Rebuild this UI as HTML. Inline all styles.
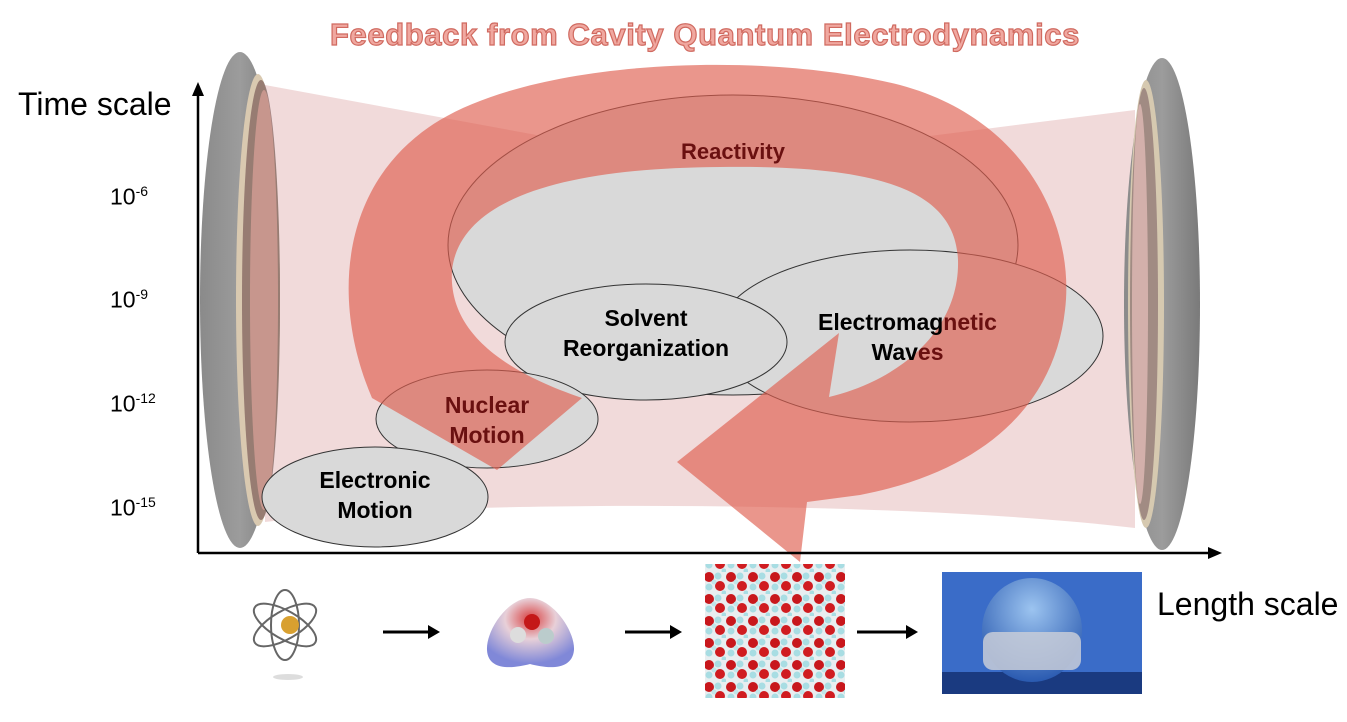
<!DOCTYPE html>
<html><head><meta charset="utf-8"><style>
html,body{margin:0;padding:0;background:#fff;}
body{width:1347px;height:722px;position:relative;overflow:hidden;font-family:"Liberation Sans",sans-serif;}
.t{position:absolute;color:#000;}
</style></head><body>
<svg width="1347" height="722" style="position:absolute;left:0;top:0">
<defs>
<linearGradient id="mg" x1="0" x2="1" y1="0" y2="0">
<stop offset="0" stop-color="#8a8a8a"/><stop offset="0.5" stop-color="#9c9c9c"/><stop offset="1" stop-color="#7a7a7a"/></linearGradient>
<radialGradient id="mol" cx="0.5" cy="0.3" r="0.65"><stop offset="0" stop-color="#d84040"/><stop offset="0.45" stop-color="#e8d0d8"/><stop offset="1" stop-color="#8088d8"/></radialGradient>
<radialGradient id="drop" cx="0.5" cy="0.3" r="0.7"><stop offset="0" stop-color="#9cc4f0"/><stop offset="1" stop-color="#2a5ab0"/></radialGradient>
<pattern id="wat" width="22" height="22" patternUnits="userSpaceOnUse">
<rect width="22" height="22" fill="#e8eef0"/>
<circle cx="5" cy="5" r="5" fill="#c8171c"/><circle cx="14" cy="4" r="3.5" fill="#a8dde3"/>
<circle cx="16" cy="14" r="5" fill="#d01c20"/><circle cx="5" cy="15" r="3.5" fill="#a8dde3"/>
<circle cx="10" cy="10" r="2.5" fill="#bfe6ea"/><circle cx="20" cy="21" r="2.5" fill="#a8dde3"/>
</pattern>
</defs>
<path d="M265,85 L700,165 L1135,110 L1135,528 C1000,512 800,505 600,506 C450,507 350,512 265,522 Z" fill="#eed3d3" opacity="0.85"/>
<ellipse cx="240" cy="300" rx="40" ry="248" fill="url(#mg)"/>
<ellipse cx="258" cy="300" rx="22" ry="226" fill="#d9c9b0"/>
<ellipse cx="261" cy="300" rx="19" ry="220" fill="#6a4a4a" opacity="0.6"/>
<ellipse cx="264" cy="300" rx="14" ry="210" fill="#e8a8a0" opacity="0.6"/>
<ellipse cx="1162" cy="304" rx="38" ry="246" fill="url(#mg)"/>
<ellipse cx="1146" cy="304" rx="18" ry="224" fill="#d6c9b0"/>
<ellipse cx="1144" cy="304" rx="14" ry="216" fill="#8a7070" opacity="0.7"/>
<ellipse cx="1140" cy="304" rx="8" ry="200" fill="#e8c0bc" opacity="0.7"/>
<g fill="#d9d9d9" stroke="#333" stroke-width="1">
<ellipse cx="733" cy="245" rx="285" ry="150"/>
<ellipse cx="910" cy="336" rx="193" ry="86"/>
<ellipse cx="646" cy="342" rx="141" ry="58"/>
<ellipse cx="487" cy="419" rx="111" ry="49"/>
<ellipse cx="375" cy="497" rx="113" ry="50"/>
</g>
<path d="M582,398 L497,470 L372,398 C330,300 340,180 440,120 C540,60 760,50 900,85 C1030,120 1075,230 1065,310 C1055,400 990,470 860,495 L807,502 L800,562 L677,462 L839,333 L829,397 C900,380 960,330 958,260 C955,190 880,165 720,167 C560,168 460,200 452,270 C448,330 500,370 582,398 Z" fill="#df5e4e" opacity="0.65"/>
<g stroke="#000" stroke-width="2.5" fill="none">
<line x1="198" y1="553" x2="198" y2="92"/>
<line x1="198" y1="553" x2="1212" y2="553"/>
</g>
<path d="M198,82 L192,96 L204,96 Z" fill="#000"/>
<path d="M1222,553 L1208,547 L1208,559 Z" fill="#000"/>
<g stroke="#000" stroke-width="3"><line x1="383" y1="632" x2="432" y2="632"/><line x1="625" y1="632" x2="674" y2="632"/><line x1="857" y1="632" x2="910" y2="632"/></g>
<g fill="#000"><path d="M440,632 L428,625 L428,639Z"/><path d="M682,632 L670,625 L670,639Z"/><path d="M918,632 L906,625 L906,639Z"/></g>
<g fill="none" stroke="#666" stroke-width="2">
<ellipse cx="285" cy="625" rx="35" ry="14" transform="rotate(30 285 625)"/>
<ellipse cx="285" cy="625" rx="35" ry="14" transform="rotate(-30 285 625)"/>
<ellipse cx="285" cy="625" rx="35" ry="14" transform="rotate(90 285 625)"/>
</g>
<circle cx="290" cy="625" r="9" fill="#d8a030"/>
<ellipse cx="288" cy="677" rx="15" ry="3" fill="#ddd"/>
<path d="M530,598 C552,598 575,630 574,650 C572,672 545,668 530,664 C515,668 488,672 487,650 C486,630 508,598 530,598Z" fill="url(#mol)"/>
<circle cx="518" cy="635" r="8" fill="#ddd"/><circle cx="546" cy="636" r="8" fill="#bcc"/><circle cx="532" cy="622" r="8" fill="#c41818"/>
<rect x="705" y="564" width="140" height="134" fill="url(#wat)"/>
<rect x="942" y="572" width="200" height="122" fill="#3a6cc8"/>
<rect x="942" y="672" width="200" height="22" fill="#1a3a80"/>
<ellipse cx="1032" cy="630" rx="50" ry="52" fill="url(#drop)"/>
<rect x="983" y="632" width="98" height="38" rx="10" fill="#c8ccd8" opacity="0.85"/>
</svg>
<div class="t" style="left:300px;top:17px;width:810px;text-align:center;font-size:31px;letter-spacing:0.6px;font-weight:bold;color:#f0a8a0;-webkit-text-stroke:1.2px #d06a60;">Feedback from Cavity Quantum Electrodynamics</div>
<div class="t" style="left:18px;top:86px;font-size:32px;">Time scale</div>
<div class="t" style="left:110px;top:183px;font-size:23px;">10<sup style="font-size:14px">-6</sup></div>
<div class="t" style="left:110px;top:286px;font-size:23px;">10<sup style="font-size:14px">-9</sup></div>
<div class="t" style="left:110px;top:390px;font-size:23px;">10<sup style="font-size:14px">-12</sup></div>
<div class="t" style="left:110px;top:494px;font-size:23px;">10<sup style="font-size:14px">-15</sup></div>
<div class="t" style="left:1157px;top:586px;font-size:32px;">Length scale</div>
<div class="t" style="left:640px;top:139px;width:186px;text-align:center;font-size:22px;font-weight:bold;color:#6a1010;">Reactivity</div>
<div class="t" style="left:546px;top:303px;width:200px;text-align:center;font-size:23px;font-weight:bold;line-height:30px;">Solvent<br>Reorganization</div>
<div class="t" style="left:800px;top:307px;width:215px;text-align:center;font-size:23px;font-weight:bold;line-height:30px;">Electromag<span style="color:#6a1010">netic</span><br>Wav<span style="color:#6a1010">es</span></div>
<div class="t" style="left:407px;top:390px;width:160px;text-align:center;font-size:23px;font-weight:bold;line-height:30px;color:#6a1010;">Nuclear<br>Motion</div>
<div class="t" style="left:290px;top:465px;width:170px;text-align:center;font-size:23px;font-weight:bold;line-height:30px;">Electronic<br>Motion</div>
</body></html>
